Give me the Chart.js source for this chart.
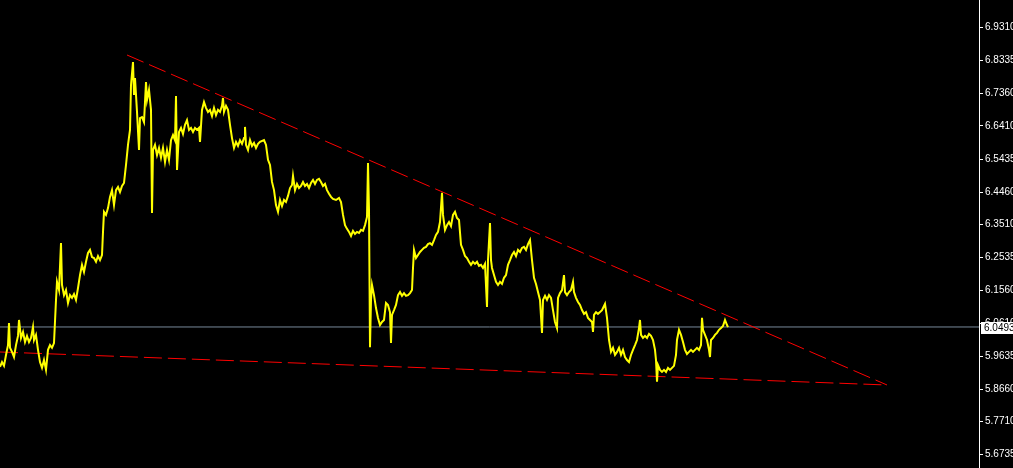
<!DOCTYPE html>
<html>
<head>
<meta charset="utf-8">
<script src="https://cdn.jsdelivr.net/npm/chart.js@4/dist/chart.umd.min.js"></script>
<style>
    body { margin: 0; background: #000; }
    canvas { display: block; background: #000; }
</style>
</head>
<body>
<canvas id="myChart" width="1013" height="468"></canvas>
<script>
// bar index (time) and close price
var barIndex = [0,2,4,6,8,9,10,12,14,16,18,19,21,23,25,27,29,31,33,34,36,38,40,42,44,46,48,50,52,54,
    56,57,59,61,62,64,66,68,70,72,74,76,78,80,82,84,86,88,90,92,94,96,98,100,102,103,104,106,108,110,
    112,114,116,118,120,122,124,126,128,130,131,133,134,135,137,139,140,142,144,146,147,149,151,152,153,155,157,159,161,163,
    165,167,169,171,173,175,176,177,179,181,183,185,187,189,191,193,195,197,199,200,202,204,206,208,210,212,214,216,218,220,
    222,223,224,226,228,230,232,234,236,238,240,242,244,245,246,248,250,252,254,256,258,260,264,266,268,270,272,274,276,278,
    280,282,284,286,288,290,292,293,295,297,299,301,303,305,307,309,311,313,315,317,319,321,323,325,327,329,331,333,336,339,
    341,343,345,347,349,351,353,355,357,359,361,363,365,367,368,369,370,371,372,374,376,378,380,382,384,386,388,390,391,392,
    394,396,398,400,402,404,406,408,410,412,413,414,416,418,420,422,424,426,428,430,432,434,436,438,440,442,443,445,447,449,
    451,453,455,457,459,461,463,465,467,469,471,473,475,477,479,481,483,485,487,488,490,491,492,494,496,498,500,502,504,506,
    508,510,512,514,516,518,520,522,524,526,528,530,532,534,536,538,540,542,543,545,547,549,551,553,555,557,558,560,562,564,
    565,567,569,571,573,574,576,578,580,582,584,586,588,590,592,593,594,596,598,600,602,604,605,607,609,611,613,615,617,619,
    621,623,625,627,629,631,633,635,637,639,640,641,643,645,647,649,651,653,655,656,657,658,660,662,664,666,668,670,672,674,
    676,677,679,681,683,685,687,689,691,693,695,697,699,701,702,703,705,707,709,710,711,713,715,717,719,721,723,725,727,728];
var price = [5.932,5.946,5.935,5.967,5.996,6.061,5.988,5.976,5.961,5.996,6.023,6.070,6.017,6.035,6.005,6.023,6.005,6.017,6.049,6.011,6.026,5.982,5.946,5.929,5.952,5.923,5.982,5.996,5.988,6.002,
    6.129,6.182,6.158,6.296,6.173,6.143,6.158,6.120,6.143,6.135,6.146,6.129,6.164,6.202,6.232,6.211,6.241,6.267,6.276,6.255,6.252,6.241,6.258,6.246,6.261,6.329,6.388,6.379,6.399,6.432,
    6.452,6.408,6.452,6.461,6.446,6.464,6.473,6.526,6.585,6.629,6.761,6.829,6.732,6.782,6.682,6.570,6.664,6.667,6.652,6.770,6.717,6.747,6.688,6.385,6.570,6.585,6.555,6.576,6.547,6.576,
    6.535,6.570,6.541,6.599,6.614,6.599,6.729,6.511,6.623,6.635,6.617,6.644,6.658,6.629,6.635,6.623,6.635,6.629,6.635,6.594,6.688,6.711,6.694,6.682,6.688,6.670,6.694,6.673,6.688,6.682,
    6.700,6.723,6.682,6.700,6.688,6.644,6.605,6.576,6.594,6.582,6.599,6.588,6.605,6.638,6.585,6.570,6.599,6.582,6.591,6.576,6.588,6.594,6.599,6.585,6.541,6.526,6.476,6.452,6.408,6.388,
    6.423,6.405,6.423,6.417,6.435,6.458,6.467,6.494,6.452,6.470,6.458,6.464,6.476,6.464,6.470,6.458,6.473,6.482,6.470,6.482,6.485,6.476,6.464,6.470,6.452,6.441,6.432,6.426,6.423,6.429,
    6.417,6.379,6.349,6.338,6.329,6.317,6.332,6.323,6.329,6.326,6.335,6.332,6.349,6.373,6.532,6.394,5.990,6.129,6.173,6.143,6.105,6.076,6.055,6.064,6.070,6.120,6.114,6.093,6.002,6.085,
    6.099,6.114,6.143,6.152,6.141,6.149,6.141,6.143,6.149,6.158,6.223,6.276,6.252,6.261,6.270,6.276,6.282,6.285,6.293,6.296,6.291,6.305,6.320,6.329,6.358,6.444,6.379,6.335,6.349,6.358,
    6.346,6.379,6.388,6.370,6.364,6.291,6.276,6.258,6.252,6.241,6.232,6.241,6.235,6.241,6.229,6.232,6.223,6.235,6.108,6.246,6.355,6.246,6.223,6.202,6.182,6.173,6.182,6.176,6.194,6.202,
    6.232,6.246,6.261,6.270,6.258,6.276,6.270,6.282,6.285,6.276,6.293,6.305,6.246,6.194,6.176,6.152,6.129,6.032,6.129,6.141,6.129,6.143,6.135,6.099,6.064,6.046,6.135,6.149,6.158,6.202,
    6.152,6.143,6.152,6.158,6.182,6.152,6.135,6.123,6.114,6.099,6.088,6.093,6.076,6.070,6.064,6.035,6.085,6.093,6.088,6.093,6.099,6.111,6.117,6.076,6.011,5.976,5.988,5.967,5.976,5.988,
    5.967,5.982,5.961,5.952,5.946,5.967,5.982,5.996,6.011,6.046,6.070,6.026,6.017,6.023,6.017,6.029,6.023,6.011,5.982,5.952,5.888,5.937,5.923,5.917,5.923,5.917,5.929,5.923,5.929,5.935,
    5.967,6.011,6.041,6.026,6.005,5.982,5.970,5.976,5.982,5.976,5.982,5.988,5.982,5.996,6.076,6.041,6.026,6.011,5.982,5.961,6.011,6.017,6.026,6.032,6.041,6.046,6.052,6.070,6.055,6.049];

// trendlines (start / end bar and price)
var upperTrendX = [127, 887];
var upperTrendY = [6.8495, 5.8786];
var lowerTrendX = [0, 887];
var lowerTrendY = [5.9757, 5.8786];

var currentPrice = 6.0493;
var tickValues = [6.9310, 6.8335, 6.7360, 6.6410, 6.5435, 6.4460, 6.3510, 6.2535, 6.1560, 6.0610, 5.9635, 5.8660, 5.7710, 5.6735];

var lastBar = 979;
var yMin = 5.6344;
var yMax = 7.0113;
var axisFont = { family: 'Liberation Sans', size: 10 };

function toPoints(xs, ys) {
    return xs.map(function(x, i) { return { x: x, y: ys[i] }; });
}

var priceLabel = {
    id: 'priceLabel',
    afterDraw: function(chart) {
        var ctx = chart.ctx;
        var y = Math.round(chart.scales.y.getPixelForValue(currentPrice));
        var left = chart.chartArea.right + 2;
        ctx.save();
        ctx.fillStyle = '#fff';
        ctx.fillRect(left, y - 5, 1013 - left, 12);
        ctx.fillStyle = '#000';
        ctx.font = '10px "Liberation Sans"';
        ctx.textBaseline = 'middle';
        ctx.fillText(currentPrice.toFixed(4), left + 3, y + 1);
        ctx.restore();
    }
};

var chr = document.getElementById("myChart").getContext("2d");
var myChart = new Chart(chr, {
    type: 'line',
    data: {
        datasets: [{
            label: 'Price',
            data: toPoints(barIndex, price),
            borderColor: '#ffff00',
            borderWidth: 2,
            pointRadius: 0,
            tension: 0,
            order: 1
        }, {
            label: 'Current',
            data: toPoints([0, lastBar], [currentPrice, currentPrice]),
            borderColor: '#778899',
            borderWidth: 1,
            pointRadius: 0,
            order: 3
        }, {
            label: 'Upper trend',
            data: toPoints(upperTrendX, upperTrendY),
            borderColor: '#ff0000',
            borderWidth: 1,
            borderDash: [18, 6],
            pointRadius: 0,
            order: 2
        }, {
            label: 'Lower trend',
            data: toPoints(lowerTrendX, lowerTrendY),
            borderColor: '#ff0000',
            borderWidth: 1,
            borderDash: [18, 6],
            pointRadius: 0,
            order: 2
        }]
    },
    options: {
        responsive: false,
        animation: false,
        layout: { padding: 0 },
        plugins: {
            legend: { display: false },
            tooltip: { enabled: false }
        },
        scales: {
            x: {
                type: 'linear',
                min: 0,
                max: lastBar,
                display: false
            },
            y: {
                position: 'right',
                min: yMin,
                max: yMax,
                afterBuildTicks: function(scale) {
                    scale.ticks = tickValues.map(function(v) { return { value: v }; });
                },
                afterFit: function(scale) {
                    scale.width = 34;
                    scale.paddingTop = 0;
                    scale.paddingBottom = 0;
                },
                ticks: {
                    color: '#fff',
                    font: axisFont,
                    padding: 2,
                    autoSkip: false,
                    callback: function(v) { return Number(v).toFixed(4); }
                },
                grid: {
                    drawOnChartArea: false,
                    drawTicks: true,
                    tickLength: 4,
                    color: '#fff'
                },
                border: { display: true, color: '#fff', width: 1 }
            }
        }
    },
    plugins: [priceLabel]
});
</script>
</body>
</html>
